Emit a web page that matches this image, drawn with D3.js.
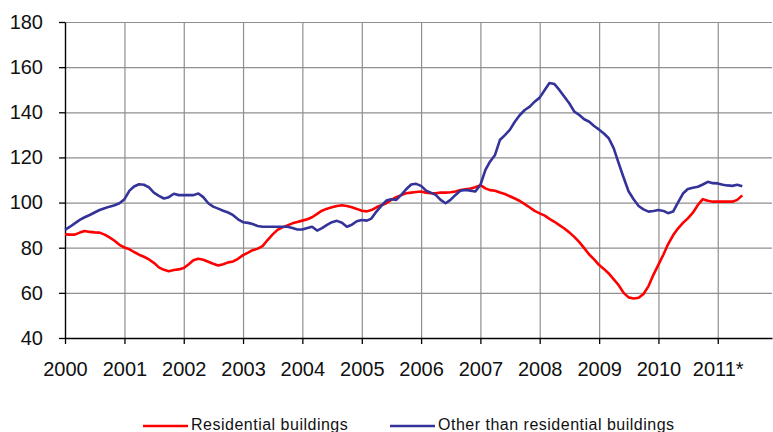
<!DOCTYPE html>
<html>
<head>
<meta charset="utf-8">
<script src="https://cdn.jsdelivr.net/npm/d3@7"></script>
<style>
  body { margin: 0; background: #fff; }
  svg { display: block; font-family: "Liberation Sans", Arial, sans-serif; }
  .grid line { stroke: #8f8f8f; stroke-width: 1.2; }
  .grid path { display: none; }
  .axis path, .axis line { stroke: #000; stroke-width: 1.3; }
  .axis text { font-size: 20px; fill: #111; }
  .legend text { font-size: 16px; fill: #111; letter-spacing: 0.5px; }
</style>
</head>
<body>
<div class="chart-wrapper"></div>
<script>
var width = 773, height = 432;

// monthly index values, Jan 2000 .. Jun 2011
var residential = [
  85.9, 85.8, 85.8, 86.7, 87.4, 87.0, 86.8, 86.7, 85.8, 84.6, 83.1, 81.3,
  80.1, 79.3, 78.1, 76.9, 76.0, 74.8, 73.3, 71.3, 70.2, 69.6, 70.1, 70.4,
  71.0, 72.7, 74.4, 75.1, 74.7, 73.8, 72.9, 72.1, 72.7, 73.5, 73.9, 75.1,
  76.7, 77.8, 78.9, 79.6, 80.7, 83.4, 85.8, 87.9, 89.0, 89.9, 90.8, 91.4,
  92.0, 92.6, 93.5, 95.0, 96.4, 97.3, 97.9, 98.5, 98.8, 98.5, 97.9, 97.2,
  96.4, 96.1, 96.7, 97.9, 98.8, 99.7, 101.2, 102.4, 103.3, 104.1, 104.4, 104.7,
  104.9, 104.4, 104.1, 104.1, 104.4, 104.4, 104.6, 104.9, 105.6, 105.9, 106.2, 106.8,
  107.7, 106.3, 105.5, 105.2, 104.5, 103.8, 102.8, 101.8, 100.7, 99.3, 97.8, 96.3,
  95.2, 94.2, 92.8, 91.5, 90.0, 88.5, 86.8, 84.8, 82.5, 79.8, 77.0, 74.8,
  72.3, 70.5, 68.6, 66.0, 63.4, 60.0, 58.0, 57.5, 57.8, 59.5, 63.0, 68.0,
  72.5, 77.0, 81.5, 85.5, 88.5, 91.0, 93.0, 95.5, 99.0, 101.5, 100.8, 100.4,
  100.4, 100.4, 100.4, 100.4, 101.2, 103.2
];

var nonResidential = [
  87.9, 89.3, 90.8, 92.3, 93.5, 94.5, 95.6, 96.7, 97.5, 98.2, 98.8, 99.7,
  101.5, 105.3, 107.1, 108.1, 107.9, 106.7, 104.4, 103.0, 101.8, 102.4, 103.9, 103.3,
  103.3, 103.3, 103.3, 104.0, 102.4, 99.7, 98.2, 97.3, 96.4, 95.6, 94.4, 92.6,
  91.3, 91.0, 90.5, 89.6, 89.3, 89.3, 89.3, 89.3, 89.3, 89.3, 88.7, 88.1,
  88.1, 88.7, 89.3, 87.6, 88.7, 90.1, 91.3, 91.9, 91.1, 89.3, 90.2, 91.7,
  92.3, 92.0, 92.9, 96.0, 98.5, 100.9, 101.5, 101.2, 103.4, 105.9, 108.0, 108.3,
  107.4, 105.3, 104.4, 103.4, 101.2, 99.7, 101.2, 103.4, 105.3, 105.6, 105.3, 104.9,
  107.8, 114.5, 118.1, 121.1, 127.7, 129.9, 132.2, 135.8, 138.8, 141.0, 142.5, 144.7,
  146.5, 149.9, 153.0, 152.5, 149.9, 146.9, 144.0, 140.3, 138.8, 136.9, 135.8, 133.9,
  132.3, 130.5, 128.5, 124.0, 117.5, 111.0, 105.0, 101.5, 98.5, 97.0, 96.0, 96.3,
  96.7, 96.3, 95.3, 96.0, 100.0, 104.0, 106.0, 106.6, 107.0, 108.0, 109.2, 108.6,
  108.5, 107.9, 107.6, 107.4, 107.9, 107.2
];

var yearLabels = ["2000", "2001", "2002", "2003", "2004", "2005",
                  "2006", "2007", "2008", "2009", "2010", "2011*"];
var yTicks = [40, 60, 80, 100, 120, 140, 160, 180];
var seriesNames = ["Residential buildings", "Other than residential buildings"];
var seriesColors = ["#ff0000", "#333399"];

var months = d3.timeMonth.range(new Date(2000, 0, 1), new Date(2011, 6, 1));
var yearStarts = yearLabels.map(function (d, i) { return new Date(2000 + i, 0, 1); });

var x = d3.scaleTime()
  .domain([new Date(2000, 0, 1), new Date(2011, 11, 1)])
  .range([65, 772]);

var y = d3.scaleLinear()
  .domain([40, 180])
  .range([338, 22]);

var svg = d3.select(".chart-wrapper").append("svg")
  .attr("width", width)
  .attr("height", height);

// grid
svg.append("g")
  .attr("class", "grid")
  .attr("transform", "translate(65,0)")
  .call(d3.axisLeft(y).tickValues(yTicks).tickSize(-(772 - 65)).tickFormat(""));

svg.append("g")
  .attr("class", "grid")
  .attr("transform", "translate(0,338)")
  .call(d3.axisBottom(x).tickValues(yearStarts).tickSize(-(338 - 22)).tickFormat(""));

// axes
svg.append("g")
  .attr("class", "axis")
  .attr("transform", "translate(65,0)")
  .call(d3.axisLeft(y).tickValues(yTicks).tickSize(6).tickPadding(16).tickSizeOuter(0));

svg.append("g")
  .attr("class", "axis")
  .attr("transform", "translate(0,338)")
  .call(d3.axisBottom(x).tickValues(yearStarts).tickSize(6).tickPadding(18).tickSizeOuter(0)
    .tickFormat(function (d, i) { return yearLabels[i]; }));

// lines
var line = d3.line()
  .x(function (d, i) { return x(months[i]); })
  .y(function (d) { return y(d); });

[residential, nonResidential].forEach(function (values, i) {
  svg.append("path")
    .datum(values)
    .attr("fill", "none")
    .attr("stroke", seriesColors[i])
    .attr("stroke-width", 2.6)
    .attr("stroke-linejoin", "round")
    .attr("d", line);
});

// legend
var legendX = [143, 390];
var legend = svg.append("g").attr("class", "legend");
seriesNames.forEach(function (name, i) {
  legend.append("line")
    .attr("x1", legendX[i]).attr("x2", legendX[i] + 45)
    .attr("y1", 426).attr("y2", 426)
    .attr("stroke", seriesColors[i])
    .attr("stroke-width", 2.6);
  legend.append("text")
    .attr("x", legendX[i] + 48)
    .attr("y", 430)
    .text(name);
});
</script>
</body>
</html>
